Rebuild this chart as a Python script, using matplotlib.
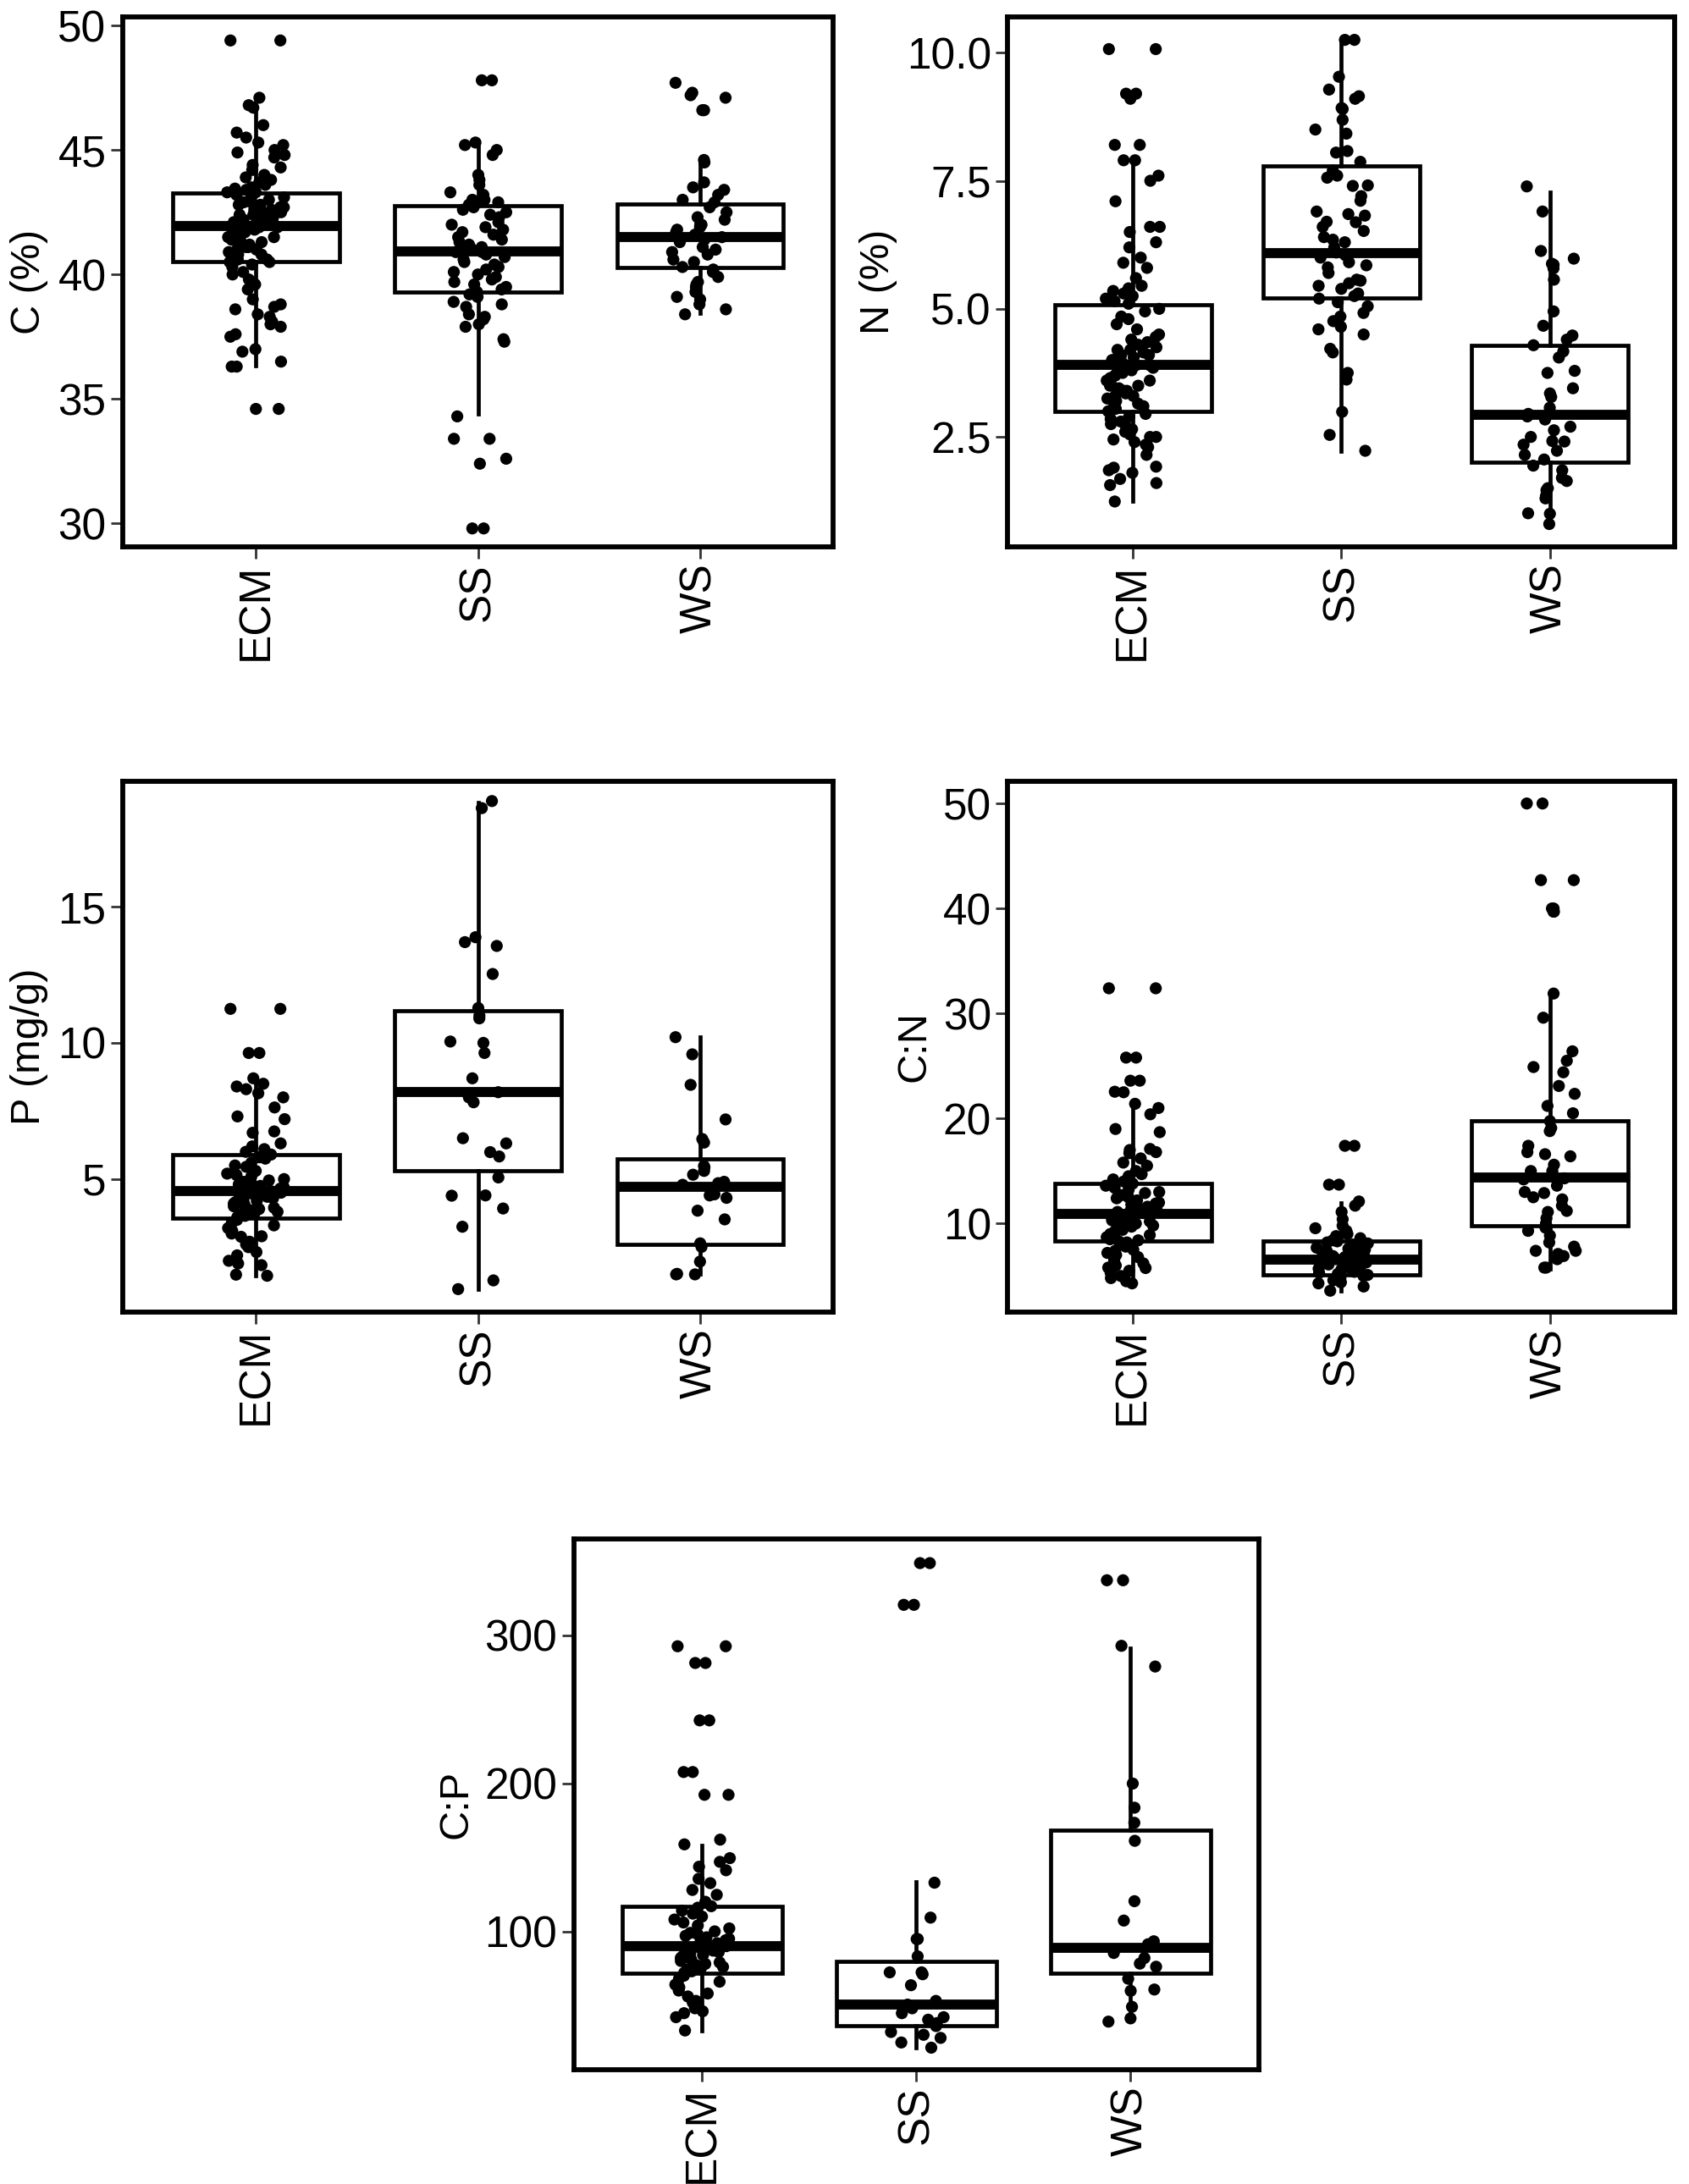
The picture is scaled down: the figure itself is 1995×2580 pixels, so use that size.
import numpy as np
import matplotlib.pyplot as plt

plt.rcParams['font.family'] = ['Liberation Sans', 'DejaVu Sans']

groups = ['ECM', 'SS', 'WS']

# --- C (%) ---
c_ecm = [49.4, 49.4, 47.1, 46.8, 46.7, 46.0, 45.7, 45.5, 45.3, 45.2, 45.0, 44.9, 44.8, 44.7,
         44.4, 44.3, 44.2, 44.0, 43.9, 43.8, 43.7, 43.6, 43.5, 43.45, 43.4,
         43.3, 43.3, 43.2, 43.1, 43.1, 43.0, 42.9, 42.9, 42.8, 42.8, 42.7, 42.7, 42.6, 42.6,
         42.5, 42.5, 42.4, 42.4, 42.3, 42.3, 42.2, 42.2, 42.1, 42.1, 42.0, 42.0, 42.0, 41.9,
         41.9, 41.9, 41.8, 41.8, 41.7, 41.7, 41.6, 41.6, 41.5, 41.5, 41.4, 41.4, 41.3, 41.3,
         41.2, 41.1, 41.1, 41.0, 41.0, 40.9, 40.8, 40.8, 40.7, 40.6, 40.6, 40.5, 40.5,
         40.4, 40.3, 40.1, 40.0, 39.8, 39.6, 39.4, 39.0, 38.8, 38.7, 38.6, 38.4, 38.3, 38.1,
         38.0, 37.9, 37.6, 37.5, 37.0, 36.9, 36.5, 36.3, 36.3, 34.6, 34.6]
c_ss = [47.8, 47.8, 45.3, 45.2, 45.0, 44.8, 44.0, 43.8, 43.6, 43.3, 43.2, 43.0, 43.0, 42.9,
        42.8, 42.7, 42.6, 42.5, 42.4, 42.3, 42.1, 42.0, 41.9, 41.8, 41.7, 41.6, 41.5, 41.4,
        41.3, 41.2, 41.1, 41.0, 41.0, 40.9, 40.9, 40.8, 40.7, 40.6, 40.5, 40.4, 40.3, 40.2,
        40.1, 40.0, 39.9, 39.8, 39.7, 39.6, 39.5, 39.4, 39.3, 39.2, 39.1, 38.9, 38.8, 38.7,
        38.4, 38.3, 38.2, 38.0, 37.9, 37.4, 37.3, 34.3, 33.4, 33.4, 32.6, 32.4, 29.8, 29.8]
c_ws = [47.7, 47.3, 47.2, 47.1, 46.6, 46.6, 44.6, 44.5, 43.7, 43.5, 43.4, 43.2, 43.0, 42.9,
        42.7, 42.5, 42.3, 42.2, 42.0, 42.0, 41.9, 41.8, 41.7, 41.6, 41.5, 41.4, 41.3, 41.1,
        41.0, 40.9, 40.8, 40.6, 40.5, 40.3, 40.2, 40.1, 39.9, 39.7, 39.6, 39.5, 39.3, 39.1,
        39.0, 38.8, 38.6, 38.4]
# box stats: median, q1, q3, lower whisker, upper whisker
c_box = [(41.95, 40.52, 43.27, 36.35, 46.95),
         (40.94, 39.30, 42.75, 34.40, 45.35),
         (41.52, 40.28, 42.83, 38.45, 44.65)]

# --- N (%) ---
n_ecm = [10.07, 10.07, 9.2, 9.2, 9.1, 8.2, 8.2, 7.9, 7.9, 7.6, 7.5, 7.1, 6.6, 6.6, 6.5, 6.3,
         6.2, 6.0, 5.9, 5.8, 5.6, 5.45, 5.4, 5.35, 5.3, 5.25, 5.2, 5.15, 5.1,
         5.0, 4.95, 4.85, 4.8, 4.7, 4.6, 4.5, 4.45, 4.4, 4.35, 4.3, 4.25, 4.2, 4.2, 4.15, 4.1,
         4.1, 4.05, 4.0, 4.0, 3.95, 3.95, 3.9, 3.9, 3.85, 3.85, 3.8, 3.8, 3.75, 3.7, 3.7,
         3.65, 3.6, 3.6, 3.55, 3.5, 3.5, 3.45, 3.4, 3.4, 3.35, 3.3, 3.3, 3.25, 3.2, 3.15,
         3.1, 3.1, 3.05, 3.0,
         2.95, 2.9, 2.85, 2.8, 2.75, 2.7, 2.65, 2.6, 2.55, 2.5, 2.5, 2.45, 2.4, 2.35, 2.3,
         2.15, 1.92, 1.9, 1.85, 1.8, 1.68, 1.6, 1.56, 1.24]
n_ss = [10.25, 10.25, 9.53, 9.28, 9.15, 9.1, 8.92, 8.9, 8.69, 8.5, 8.42, 8.08, 8.05, 7.87,
        7.7, 7.6, 7.56, 7.41, 7.4, 7.2, 7.11, 6.9, 6.85, 6.82, 6.7, 6.69, 6.6, 6.52, 6.4,
        6.35, 6.3, 6.2, 6.1, 6.05, 6.0, 5.91, 5.85, 5.81, 5.7, 5.57, 5.55, 5.5, 5.45, 5.39,
        5.3, 5.25, 5.2, 5.13, 5.05, 4.92, 4.85, 4.76, 4.65, 4.6, 4.5, 4.22, 4.15, 3.75,
        3.62, 2.99, 2.54, 2.23]
n_ws = [7.39, 6.9, 6.13, 5.98, 5.88, 5.86, 5.79, 5.57, 4.95, 4.67, 4.48, 4.4, 4.29, 4.17,
        4.05, 3.79, 3.75, 3.45, 3.35, 3.28, 3.07, 2.95, 2.9, 2.84, 2.7, 2.63, 2.5, 2.42,
        2.41, 2.35, 2.23, 2.15, 2.06, 1.94, 1.85, 1.7, 1.64, 1.5, 1.46, 1.35, 1.3, 1.01,
        1.0, 0.8]
n_box = [(3.91, 3.00, 5.08, 1.24, 7.79),
         (6.08, 5.22, 7.79, 2.23, 10.27),
         (2.93, 2.00, 4.29, 0.80, 7.28)]

# --- P (mg/g) ---
p_ecm = [11.25, 11.25, 9.63, 9.63, 8.7, 8.5, 8.4, 8.3, 8.15, 8.0, 7.63, 7.3, 7.2, 6.75, 6.7,
         6.31, 6.2, 6.1, 6.0,
         5.9, 5.8, 5.75, 5.6, 5.5, 5.45, 5.3, 5.2, 5.15, 5.1, 5.0, 4.95, 4.9, 4.85, 4.8,
         4.75, 4.7, 4.65, 4.6, 4.55, 4.5, 4.5, 4.45, 4.4, 4.35, 4.3, 4.25, 4.2, 4.15, 4.1,
         4.05, 4.0, 3.95, 3.9, 3.85, 3.8, 3.75, 3.7, 3.65, 3.6,
         3.5, 3.4, 3.3, 3.2, 3.1, 3.0, 2.9, 2.88, 2.7, 2.6, 2.5, 2.32, 2.2, 2.0, 1.9, 1.84,
         1.49, 1.45]
p_ss = [18.88, 18.62, 13.88, 13.7, 13.56, 12.53, 11.28, 11.0, 10.9, 10.05, 10.0, 9.63, 8.7,
        8.19, 8.0, 7.82, 6.5, 6.31, 5.99, 5.83, 5.06, 4.39, 4.4, 3.92, 3.25, 1.28, 0.96]
p_ws = [10.21, 9.58, 8.46, 7.19, 6.47, 6.34, 5.48, 5.43, 5.3, 5.16, 4.9, 4.85, 4.79, 4.44,
        4.4, 4.31, 3.84, 3.52, 2.64, 2.51, 1.97, 1.52, 1.5, 1.5]
p_box = [(4.55, 3.56, 5.91, 1.44, 8.54),
         (8.19, 5.32, 11.17, 0.96, 18.83),
         (4.71, 2.61, 5.75, 1.52, 10.22)]

# --- C:N ---
cn_ecm = [32.4, 32.4, 25.8, 25.8, 23.6, 23.6, 22.55, 22.5, 21.4, 21.0, 20.4, 19.0, 18.7,
          17.1, 17.0, 16.8, 16.7, 16.2, 15.8, 15.5, 15.0, 14.7, 14.5, 14.2, 14.0,
          13.8, 13.6, 13.4, 13.2, 13.0, 12.9, 12.7, 12.5, 12.4, 12.2, 12.0, 11.9, 11.8,
          11.6, 11.5, 11.4, 11.2, 11.1, 11.0, 10.9, 10.8, 10.7, 10.6, 10.5, 10.4, 10.3,
          10.2, 10.0, 9.9, 9.8, 9.7, 9.5, 9.4, 9.3, 9.1, 9.0, 8.9, 8.7, 8.6, 8.5, 8.4, 8.3,
          8.2, 8.0, 7.8, 7.5, 7.4, 7.2, 7.0, 6.8, 6.5, 6.2, 6.0, 5.8, 5.76, 5.5, 5.3, 5.0,
          4.8, 4.5, 4.3]
cn_ss = [17.4, 17.4, 13.7, 13.7, 12.1, 11.7, 11.1, 10.4, 9.8, 9.55, 9.3, 9.0, 8.8, 8.6,
         8.4, 8.3, 8.2, 8.1, 8.0, 7.9, 7.8, 7.7, 7.6, 7.5, 7.4, 7.3, 7.2, 7.1, 7.0, 6.9,
         6.8, 6.7, 6.6, 6.6, 6.5, 6.4, 6.3, 6.2, 6.1, 6.0, 5.9, 5.8, 5.7, 5.6, 5.5, 5.4,
         5.3, 5.2, 5.1, 5.0, 4.8, 4.6, 4.4, 4.3, 4.0, 3.6]
cn_ws = [50.0, 50.0, 42.7, 42.7, 40.0, 40.0, 39.7, 39.7, 31.9, 29.6, 26.4, 25.5, 24.9, 24.4,
         23.1, 22.35, 21.2, 20.5, 19.75, 19.1, 18.8, 17.4, 16.8, 16.6, 16.4, 15.6, 15.0,
         15.0, 14.3, 14.2, 13.6, 13.0, 12.9, 12.5, 12.3, 11.7, 11.2, 11.1, 10.5, 10.0, 9.6,
         9.3, 8.85, 8.2, 7.8, 7.4, 7.4, 7.1, 6.9, 6.6, 5.8, 5.8]
cn_box = [(10.9, 8.3, 13.8, 4.5, 21.4),
          (6.6, 5.15, 8.3, 3.6, 12.0),
          (14.4, 9.8, 19.8, 5.7, 31.8)]

# --- C:P ---
cp_ecm = [292.7, 292.7, 281.4, 281.4, 242.6, 242.6, 207.7, 207.7, 192.3, 192.3, 162, 158.8,
          149.5, 147, 143.7, 141.3, 135.5, 132.6, 128, 124.7, 120, 117,
          116, 114, 112, 110, 108, 106, 104, 102, 100, 99, 98, 97, 96, 95, 94, 93, 92, 91,
          90, 89, 88, 87, 86, 85, 84, 83, 82, 81, 80, 79, 78, 77, 76, 75, 74, 73, 72,
          70, 68, 66, 64, 62.2, 60, 58, 56, 53, 52, 48, 46, 44.7, 42, 33]
cp_ss = [348.9, 348.9, 320.7, 320.7, 132.9, 109.3, 94.8, 94.8, 83.1, 72.3, 72.3, 71, 63.6,
         53, 50.5, 48, 44.7, 42, 40.3, 38, 36, 32, 30.1, 28, 24.9, 21.4]
cp_ws = [337.3, 337.3, 293, 279, 199.9, 183.6, 173.4, 161.2, 120.4, 107.3, 93.3, 91.3, 85.4,
         82, 78.2, 76.1, 68, 60.7, 59.8, 49, 41.2, 39]
cp_box = [(89.8, 71.5, 116.9, 33.0, 158.0),
          (50.5, 36.0, 79.6, 21.4, 133.5),
          (89.0, 71.5, 168.4, 39.4, 291.6)]

panels = [
    ('C (%)', [c_ecm, c_ss, c_ws], c_box, (29.05, 50.35), [30, 35, 40, 45, 50], '%d'),
    ('N (%)', [n_ecm, n_ss, n_ws], n_box, (0.35, 10.7), [2.5, 5.0, 7.5, 10.0], '%.1f'),
    ('P (mg/g)', [p_ecm, p_ss, p_ws], p_box, (0.13, 19.6), [5, 10, 15], '%d'),
    ('C:N', [cn_ecm, cn_ss, cn_ws], cn_box, (1.6, 52.1), [10, 20, 30, 40, 50], '%d'),
    ('C:P', [cp_ecm, cp_ss, cp_ws], cp_box, (6.6, 365), [100, 200, 300], '%d'),
]

positions = [
    [0.0727, 0.7495, 0.4207, 0.2428],
    [0.5967, 0.7495, 0.3950, 0.2428],
    [0.0727, 0.3994, 0.4207, 0.2428],
    [0.5967, 0.3994, 0.3950, 0.2428],
    [0.3397, 0.0524, 0.4058, 0.2428],
]

fig = plt.figure(figsize=(19.95, 25.8), dpi=100)

for (ylab, data, box, ylim, yticks, fmt), pos in zip(panels, positions):
    ax = fig.add_axes(pos)
    stats = []
    for name, (med, q1, q3, lo, hi) in zip(groups, box):
        stats.append(dict(med=med, q1=q1, q3=q3, whislo=lo, whishi=hi, fliers=[], label=name))
    ax.bxp(stats, positions=[1, 2, 3], widths=0.75, showcaps=False, showfliers=False,
           patch_artist=True,
           boxprops=dict(facecolor='white', edgecolor='black', linewidth=3.4),
           whiskerprops=dict(color='black', linewidth=3.4),
           medianprops=dict(color='black', linewidth=8.5, solid_capstyle='butt'),
           zorder=1)
    for i, vals in enumerate(data):
        vals = np.asarray(vals)
        k = np.arange(len(vals))
        # deterministic jitter around each group (hash of the index)
        h = np.sin((k + 1) * 12.9898 + i * 78.233) * 43758.5453
        jit = ((h - np.floor(h)) - 0.5) * 0.26
        ax.scatter(i + 1 + jit, vals, s=105, color='black', edgecolors='none', zorder=3)

    ax.set_xlim(0.4, 3.6)
    ax.set_ylim(*ylim)
    ax.set_yticks(yticks)
    ax.set_yticklabels([fmt % t for t in yticks])
    ax.set_xticks([1, 2, 3])
    ax.set_xticklabels(groups, rotation=90)
    ax.set_ylabel(ylab, fontsize=35, labelpad=8)
    ax.tick_params(axis='both', labelsize=37, length=10, width=2, pad=4, color='#333333')
    for sp in ax.spines.values():
        sp.set_linewidth(4.2)
        sp.set_color('black')

fig.savefig('out.png', dpi=100, facecolor='white')
